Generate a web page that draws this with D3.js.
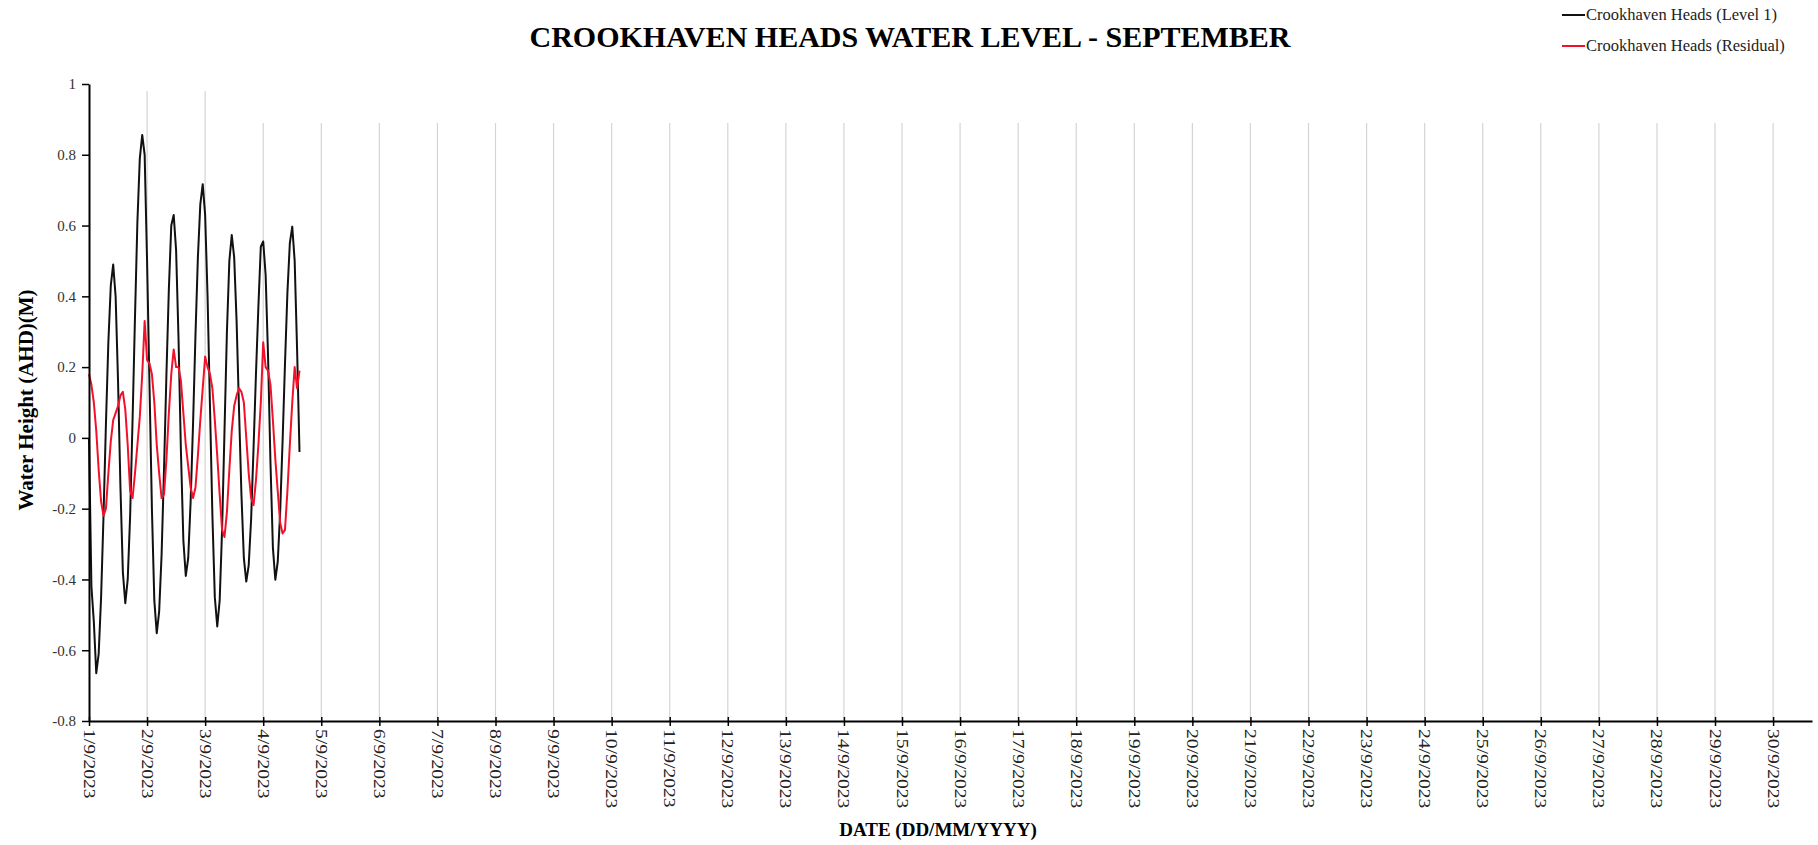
<!DOCTYPE html>
<html><head><meta charset="utf-8">
<script src="https://cdn.jsdelivr.net/npm/d3@7"></script>
<style>body{margin:0;background:#fff}svg{display:block}</style>
</head><body>
<svg id="c" width="1818" height="845"></svg>
<script>
const chartTitle = "CROOKHAVEN HEADS WATER LEVEL - SEPTEMBER";
const xTitle = "DATE (DD/MM/YYYY)";
const yTitle = "Water Height (AHD)(M)";
const seriesNames = ["Crookhaven Heads (Level 1)", "Crookhaven Heads (Residual)"];
const seriesColors = ["#111111", "#f2112a"];
const dateLabels = ["1/9/2023","2/9/2023","3/9/2023","4/9/2023","5/9/2023","6/9/2023","7/9/2023","8/9/2023","9/9/2023","10/9/2023",
  "11/9/2023","12/9/2023","13/9/2023","14/9/2023","15/9/2023","16/9/2023","17/9/2023","18/9/2023","19/9/2023","20/9/2023",
  "21/9/2023","22/9/2023","23/9/2023","24/9/2023","25/9/2023","26/9/2023","27/9/2023","28/9/2023","29/9/2023","30/9/2023"];
const yTickValues = [-0.8, -0.6, -0.4, -0.2, 0, 0.2, 0.4, 0.6, 0.8, 1];
const yTickLabels = ["-0.8", "-0.6", "-0.4", "-0.2", "0", "0.2", "0.4", "0.6", "0.8", "1"];
// hourly readings from 1/9/2023 00:00
const level1 = [0.00,-0.42,-0.52,-0.665,-0.61,-0.45,-0.22,0.04,0.27,0.43,
  0.49,0.40,0.16,-0.14,-0.38,-0.467,-0.40,-0.22,0.05,0.34,
  0.61,0.79,0.856,0.80,0.50,0.15,-0.20,-0.46,-0.552,-0.49,
  -0.33,-0.09,0.18,0.42,0.60,0.63,0.53,0.28,-0.04,-0.29,
  -0.39,-0.34,-0.18,0.04,0.29,0.51,0.66,0.717,0.63,0.40,
  0.09,-0.22,-0.45,-0.533,-0.46,-0.26,0.02,0.30,0.50,0.573,
  0.51,0.33,0.08,-0.16,-0.34,-0.406,-0.36,-0.23,-0.03,0.18,
  0.37,0.54,0.555,0.46,0.23,-0.07,-0.31,-0.401,-0.35,-0.21,
  -0.01,0.21,0.41,0.55,0.597,0.50,0.25,-0.04];
const residual = [0.18,0.15,0.10,0.02,-0.09,-0.18,-0.22,-0.20,-0.10,-0.01,
  0.05,0.07,0.09,0.12,0.13,0.08,-0.02,-0.15,-0.17,-0.10,
  -0.02,0.06,0.18,0.33,0.22,0.21,0.18,0.10,-0.02,-0.10,
  -0.17,-0.16,-0.06,0.07,0.18,0.25,0.20,0.20,0.16,0.07,
  -0.02,-0.08,-0.14,-0.17,-0.14,-0.05,0.05,0.14,0.23,0.20,
  0.18,0.14,0.05,-0.05,-0.16,-0.26,-0.28,-0.21,-0.09,0.02,
  0.09,0.12,0.14,0.13,0.10,0.00,-0.10,-0.17,-0.19,-0.12,
  -0.02,0.10,0.27,0.20,0.19,0.15,0.05,-0.06,-0.15,-0.24,
  -0.27,-0.26,-0.15,-0.02,0.10,0.20,0.14,0.19];
const gridTop = [0.98, 0.98, 0.89];

const svg = d3.select("#c");
svg.append("rect").attr("width", 1818).attr("height", 845).attr("fill", "#fff");
const serif = "'Liberation Serif','Times New Roman',serif";

const x = d3.scaleLinear().domain([0, 29.67]).range([89, 1812]);
const y = d3.scaleLinear().domain([-0.8, 1]).range([721, 84]);

// gridlines
const gridDays = d3.range(1, dateLabels.length);
svg.append("g").selectAll("line").data(gridDays).join("line")
  .attr("x1", d => x(d)).attr("x2", d => x(d))
  .attr("y1", d => y(d <= 2 ? gridTop[0] : gridTop[2])).attr("y2", y(-0.8))
  .attr("stroke", "#d4d4d4").attr("stroke-width", 1.2);

// lines
const line = d3.line().x((d, i) => x(i / 24)).y(d => y(d));
[level1, residual].forEach((s, k) => {
  svg.append("path").datum(s).attr("d", line).attr("fill", "none")
    .attr("stroke", seriesColors[k]).attr("stroke-width", 2).attr("stroke-linejoin", "round");
});

// x axis
const xAxis = d3.axisBottom(x).tickValues(d3.range(dateLabels.length))
  .tickFormat(i => dateLabels[i]).tickSize(5).tickSizeOuter(0).tickPadding(8);
const gx = svg.append("g").attr("transform", `translate(0,${y(-0.8)})`).call(xAxis);
gx.select(".domain").attr("stroke", "#000").attr("stroke-width", 2);
gx.selectAll(".tick line").attr("y1", -4).attr("stroke", "#000").attr("stroke-width", 1.5);
gx.selectAll(".tick text")
  .attr("font-family", serif).attr("font-size", 17).attr("fill", "#222")
  .attr("text-anchor", "start").attr("dy", "0.35em").attr("y", 0)
  .attr("transform", "translate(0,8) rotate(90) scale(1.15,1)");

// y axis
const yAxis = d3.axisLeft(y).tickValues(yTickValues)
  .tickFormat((d, i) => yTickLabels[i]).tickSize(7).tickSizeOuter(0).tickPadding(6);
const gy = svg.append("g").attr("transform", `translate(${x(0)},0)`).call(yAxis);
gy.select(".domain").attr("stroke", "#000").attr("stroke-width", 2);
gy.selectAll(".tick line").attr("stroke", "#000").attr("stroke-width", 1.5);
gy.selectAll(".tick text").attr("font-family", serif).attr("font-size", 15).attr("fill", "#333");

// titles
svg.append("text").attr("x", 910).attr("y", 47).attr("text-anchor", "middle")
  .attr("font-family", serif).attr("font-weight", "bold").attr("font-size", 30).text(chartTitle);
svg.append("text").attr("x", 938).attr("y", 836).attr("text-anchor", "middle")
  .attr("font-family", serif).attr("font-weight", "bold").attr("font-size", 19).text(xTitle);
svg.append("text").attr("transform", "translate(33,400) rotate(-90)").attr("text-anchor", "middle")
  .attr("font-family", serif).attr("font-weight", "bold").attr("font-size", 21).text(yTitle);

// legend
const lg = svg.append("g").selectAll("g").data(seriesNames).join("g")
  .attr("transform", (d, i) => `translate(1562,${15 + i * 31})`);
lg.append("line").attr("x1", 0).attr("x2", 23).attr("stroke", (d, i) => seriesColors[i]).attr("stroke-width", 2);
lg.append("text").attr("x", 24).attr("y", 5).attr("font-family", serif).attr("font-size", 16.5)
  .attr("fill", "#222").text(d => d);
</script>
</body></html>
